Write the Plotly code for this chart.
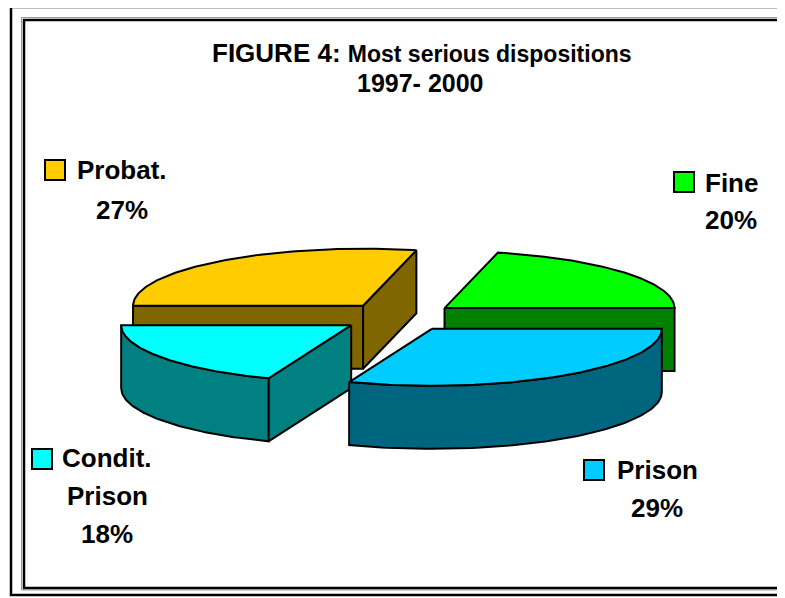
import numpy as np
import plotly.graph_objects as go

# ---------------- data ----------------
categories = ["Probat.", "Fine", "Prison", "Condit. Prison"]
values = [27, 20, 29, 18]
label_lines = [["Probat."], ["Fine"], ["Prison"], ["Condit.", "Prison"]]
top_colors = ["#FFCC00", "#00FF00", "#00CCFF", "#00FFFF"]
side_colors = ["#806600", "#008000", "#006680", "#008080"]

# ---------------- layout constants ----------------
W, H = 785, 598            # window size
PAGE_OFF = 8               # default body margin of the html page
CX, CY = 399, 317          # pie centre (px)
RX, RY = 230, 57           # projected radii (px)
DEPTH = 63                 # pie thickness (px)
EXPLODE = 58               # explosion distance (px, radial)
START = 180                # first slice start angle (deg), clockwise
FONT = "Liberation Sans, Arial, sans-serif"

# label placement: (key-square x0, y0), text centre x, first-line centre y, line step
label_pos = [
    (45, 160, 122, 170, 40),
    (674, 172, 731, 183, 37),
    (584, 460, 657, 470, 37.5),
    (32, 449, 107, 458, 38),
]

total = sum(values)
slices = []
a = START
for i, v in enumerate(values):
    span = v / total * 360.0
    slices.append((a - span, a, i))
    a -= span


def ring(t, ox, oy, dz=0.0):
    r = np.radians(t)
    return ox + RX * np.cos(r), oy - RY * np.sin(r) + dz


fig = go.Figure()


def poly(xs, ys, fill):
    fig.add_trace(go.Scatter(
        x=list(xs) + [xs[0]], y=list(ys) + [ys[0]], mode="lines",
        fill="toself", fillcolor=fill,
        line=dict(color="black", width=2), hoverinfo="skip", showlegend=False))


def sin_d(t):
    return np.sin(np.radians(t))


order = sorted(slices, key=lambda s: -sin_d((s[0] + s[1]) / 2))
for lo, hi, i in order:
    m = np.radians((lo + hi) / 2)
    ox = CX + EXPLODE * np.cos(m)
    oy = CY - EXPLODE * (RY / RX) * np.sin(m)
    side = side_colors[i]
    # radial walls
    for ang, vis in ((lo, np.cos(np.radians(lo)) > 1e-9), (hi, np.cos(np.radians(hi)) < -1e-9)):
        if vis:
            ex, ey = ring(ang, ox, oy)
            poly([ox, ex, ex, ox], [oy, ey, ey + DEPTH, oy + DEPTH], side)
    # outer curved wall (front half only)
    for f0, f1 in ((-180, 0), (180, 360), (-540, -360)):
        s0, s1 = max(lo, f0), min(hi, f1)
        if s1 - s0 > 1e-6:
            t = np.linspace(s0, s1, 80)
            xt, yt = ring(t, ox, oy)
            xs = np.concatenate([xt, xt[::-1]])
            ys = np.concatenate([yt, (yt + DEPTH)[::-1]])
            poly(xs, ys, side)
    # top face
    t = np.linspace(lo, hi, 120)
    xt, yt = ring(t, ox, oy)
    poly(np.concatenate([[ox], xt]), np.concatenate([[oy], yt]), top_colors[i])

shapes = [
    dict(type="rect", x0=11, y0=7, x1=W + 6, y1=595, line=dict(color="black", width=2.5)),
    dict(type="rect", x0=21.5, y0=17.5, x1=784, y1=590, line=dict(color="#999999", width=1)),
    dict(type="rect", x0=24, y0=20, x1=782, y1=588, line=dict(color="black", width=2.5)),
]
annotations = [
    dict(x=422, y=53, xref="x", yref="y", showarrow=False, xanchor="center", yanchor="middle",
         text="<b><span style='font-size:26px'>FIGURE 4:</span> "
              "<span style='font-size:23px'>Most serious dispositions</span></b>",
         font=dict(family=FONT, size=26, color="black")),
    dict(x=420, y=83, xref="x", yref="y", showarrow=False, xanchor="center", yanchor="middle",
         text="<b>1997- 2000</b>", font=dict(family=FONT, size=25, color="black")),
]
for i, (kx, ky, tx, ty, step) in enumerate(label_pos):
    shapes.append(dict(type="rect", x0=kx, y0=ky, x1=kx + 20, y1=ky + 20,
                       fillcolor=top_colors[i], line=dict(color="black", width=2)))
    lines = label_lines[i] + [f"{values[i]}%"]
    for j, txt in enumerate(lines):
        annotations.append(dict(x=tx, y=ty + j * step, xref="x", yref="y", showarrow=False,
                                xanchor="center", yanchor="middle", text=f"<b>{txt}</b>",
                                font=dict(family=FONT, size=26, color="black")))

# the page places the figure PAGE_OFF px from the top-left corner, so shrink the
# figure and shift the axis ranges to keep 1 data unit == 1 window pixel
fig.update_layout(
    width=W - PAGE_OFF, height=H - PAGE_OFF, margin=dict(l=0, r=0, t=0, b=0),
    paper_bgcolor="white", plot_bgcolor="white",
    xaxis=dict(range=[PAGE_OFF, W], visible=False, fixedrange=True),
    yaxis=dict(range=[H, PAGE_OFF], visible=False, fixedrange=True),
    shapes=shapes, annotations=annotations, showlegend=False,
)
fig.write_html("out.html")
